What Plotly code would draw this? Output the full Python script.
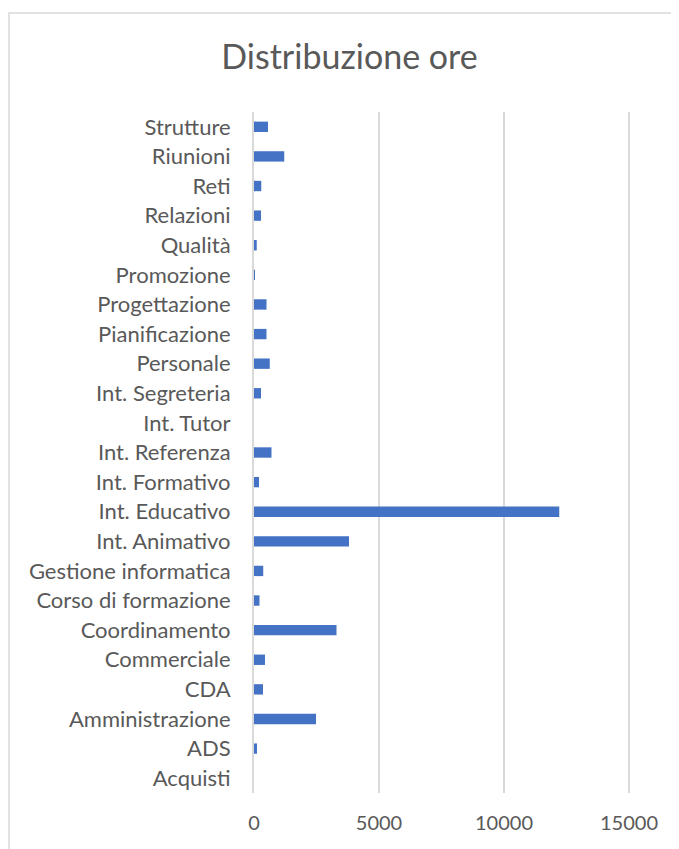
import plotly.graph_objects as go

categories = ["Acquisti", "ADS", "Amministrazione", "CDA", "Commerciale", "Coordinamento",
              "Corso di formazione", "Gestione informatica", "Int. Animativo", "Int. Educativo",
              "Int. Formativo", "Int. Referenza", "Int. Tutor", "Int. Segreteria", "Personale",
              "Pianificazione", "Progettazione", "Promozione", "Qualità", "Relazioni", "Reti",
              "Riunioni", "Strutture"]
ore = [0, 120, 2480, 360, 440, 3300,
       220, 370, 3800, 12210,
       200, 700, 0, 280, 630,
       500, 500, 40, 110, 280, 290,
       1210, 560]
x_ticks = [0, 5000, 10000, 15000]
x_tick_labels = ["0", "5000", "10000", "15000"]
title_text = "Distribuzione ore"

OFF = 8  # default page body margin
W, H = 679 - OFF, 849 - OFF
L, R, T, B = 254 - OFF, 0, 112 - OFF, 849 - 793
pw, ph = W - L - R, H - T - B

def px_x(p):
    return (p - OFF - L) / pw

def px_y(p):
    return (H - B - (p - OFF)) / ph

fig = go.Figure(go.Bar(
    x=ore, y=categories, orientation="h",
    marker=dict(color="#4472C4", line=dict(width=0)),
))

font_family = "Lato, 'Open Sans', sans-serif"

fig.update_layout(
    width=W, height=H,
    margin=dict(l=L, r=R, t=T, b=B, autoexpand=False),
    paper_bgcolor="white", plot_bgcolor="white",
    bargap=0.65,
    showlegend=False,
    title=dict(text=title_text, x=(349.5 - OFF) / W, xref="container", xanchor="center",
               y=1 - (57 - OFF) / H, yref="container", yanchor="middle",
               font=dict(family=font_family, size=34, color="#595959")),
    font=dict(family=font_family, color="#595959"),
    xaxis=dict(range=[0, 17000], tickvals=x_ticks, ticktext=x_tick_labels,
               showgrid=True, gridcolor="#d9d9d9",
               gridwidth=1.5, zeroline=False, showline=False, ticks="",
               ticklabelstandoff=16, tickfont=dict(size=20, color="#595959")),
    yaxis=dict(categoryorder="array", categoryarray=categories, showgrid=False,
               showline=True, linecolor="#d9d9d9", linewidth=2, ticks="",
               ticklabelstandoff=17, tickfont=dict(size=22, color="#595959"),
               range=[-0.5, len(categories) - 0.5]),
    shapes=[dict(type="rect", xref="paper", yref="paper",
                 x0=px_x(9), x1=px_x(700), y0=px_y(13), y1=px_y(870),
                 line=dict(color="#d9d9d9", width=1.5), fillcolor="rgba(0,0,0,0)",
                 layer="below")],
)

fig.write_html("out.html")
